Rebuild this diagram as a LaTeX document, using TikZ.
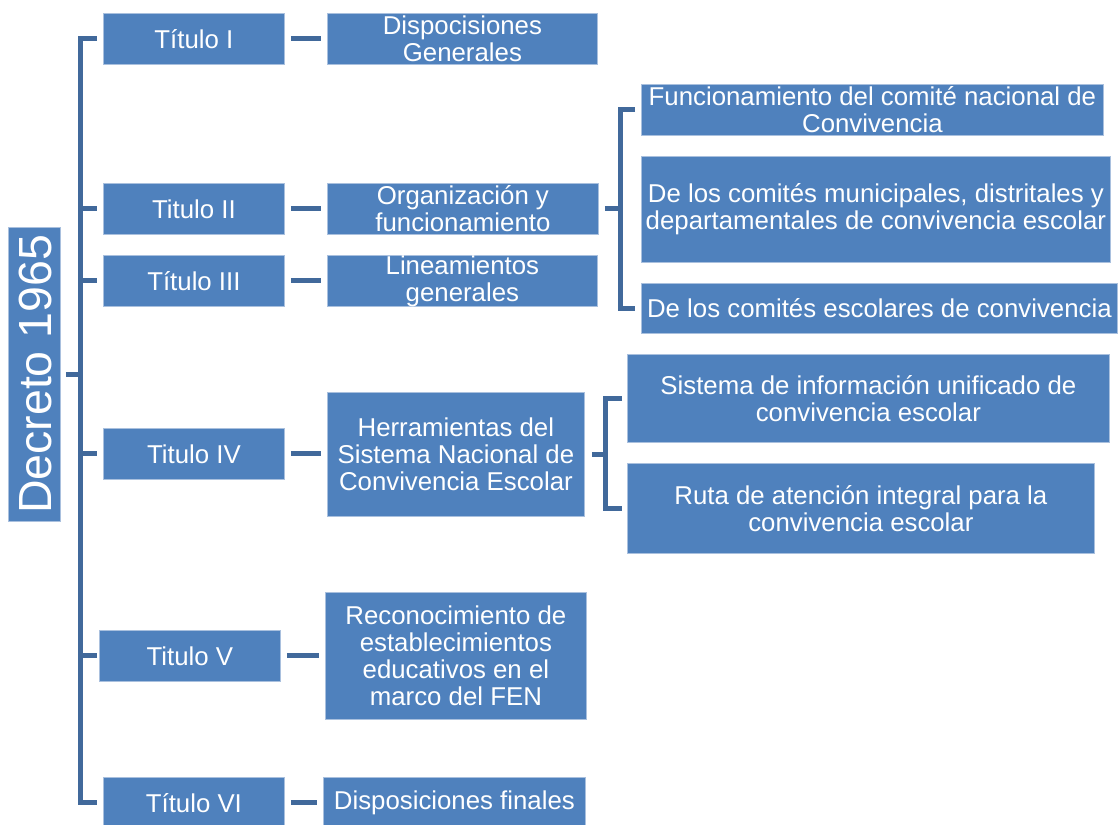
\documentclass[tikz,border=0pt]{standalone}
\usepackage{fontspec}
\setmainfont{Liberation Sans}
\definecolor{boxblue}{HTML}{4F81BD}
\definecolor{boxedge}{HTML}{A9C0DE}
\definecolor{linkblue}{HTML}{41699B}
\tikzset{
  box/.style={fill=boxblue, draw=boxedge, line width=0.8pt, text=white,
    align=center, inner sep=0pt, anchor=north west,
    font=\fontsize{25.8}{27}\selectfont},
  conn/.style={draw=linkblue, line width=5pt},
}
\begin{document}
\begin{tikzpicture}[x=1pt,y=-1pt]
\useasboundingbox (0,0) rectangle (1120,825);

% root
\node[box, minimum width=52pt, minimum height=294pt] (dec) at (8,227) {};
\node[text=white, rotate=90, font=\fontsize{46.5}{50}\selectfont] at ([xshift=1pt]dec.center) {Decreto 1965};

% titles
\node[box, minimum width=181pt, minimum height=51pt] (t1) at (103,13)  {Título I};
\node[box, minimum width=181pt, minimum height=51pt] (t2) at (103,183) {Titulo II};
\node[box, minimum width=181pt, minimum height=51pt] (t3) at (103,255) {Título III};
\node[box, minimum width=181pt, minimum height=51pt] (t4) at (103,428) {Titulo IV};
\node[box, minimum width=181pt, minimum height=51pt] (t5) at (99,630)  {Titulo V};
\node[box, minimum width=181pt, minimum height=51pt] (t6) at (103,777) {Título VI};

% contents of each title
\node[box, minimum width=270pt, minimum height=51pt]  (d1) at (327,13)  {Dispocisiones\\Generales};
\node[box, minimum width=271pt, minimum height=51pt]  (d2) at (327,183) {Organización y\\funcionamiento};
\node[box, minimum width=270pt, minimum height=51pt]  (d3) at (327,255) {Lineamientos\\generales};
\node[box, minimum width=257pt, minimum height=124pt] (d4) at (327,392) {Herramientas del\\Sistema Nacional de\\Convivencia Escolar};
\node[box, minimum width=261pt, minimum height=127pt] (d5) at (325,592) {Reconocimiento de\\establecimientos\\educativos en el\\marco del FEN};
\node[box, minimum width=262pt, minimum height=51pt]  (d6) at (323,777) {Disposiciones finales};

% committees
\node[box, minimum width=462pt, minimum height=51pt]  (c1) at (641,84)  {Funcionamiento del comité nacional de\\Convivencia};
\node[box, minimum width=469pt, minimum height=106pt] (c2) at (641,156) {De los comités municipales, distritales y\\departamentales de convivencia escolar};
\node[box, minimum width=476pt, minimum height=50pt]  (c3) at (641,283) {De los comités escolares de convivencia};

% tools
\node[box, minimum width=482pt, minimum height=88pt] (s1) at (627,354) {Sistema de información unificado de\\convivencia escolar};
\node[box, minimum width=467pt, minimum height=90pt] (s2) at (627,463) {Ruta de atención integral para la\\convivencia escolar};

% main bracket
\coordinate (spine) at (80,0);
\draw[conn] ([xshift=-6pt]t1.west) -| (spine |- t6.west) -- ([xshift=-6pt]t6.west);
\foreach \t in {t2,t3,t4} \draw[conn] (spine |- \t.west) -- ([xshift=-6pt]\t.west);
\draw[conn] (spine |- t5.west) -- ([xshift=-2pt]t5.west);
\draw[conn] ([xshift=5pt]dec.east) -- (spine |- dec.east);

% title to content links
\foreach \a/\b in {t1/d1,t2/d2,t3/d3,t4/d4,t5/d5,t6/d6}
  \draw[conn] ([xshift=6pt]\a.east) -- ([xshift=-6pt]\a.east -| \b.west);

% committees bracket
\coordinate (cb) at (620,0);
\draw[conn] ([xshift=-6pt]c1.west) -| (cb |- c3.west) -- ([xshift=-6pt]c3.west);
\draw[conn] ([xshift=6pt]d2.east) -- (cb |- d2.east);

% tools bracket
\coordinate (sb) at (605,0);
\draw[conn] ([xshift=-5pt]s1.west) -| (sb |- s2.west) -- ([xshift=-5pt]s2.west);
\draw[conn] ([xshift=7pt]d4.east) -- (sb |- d4.east);
\end{tikzpicture}
\end{document}
